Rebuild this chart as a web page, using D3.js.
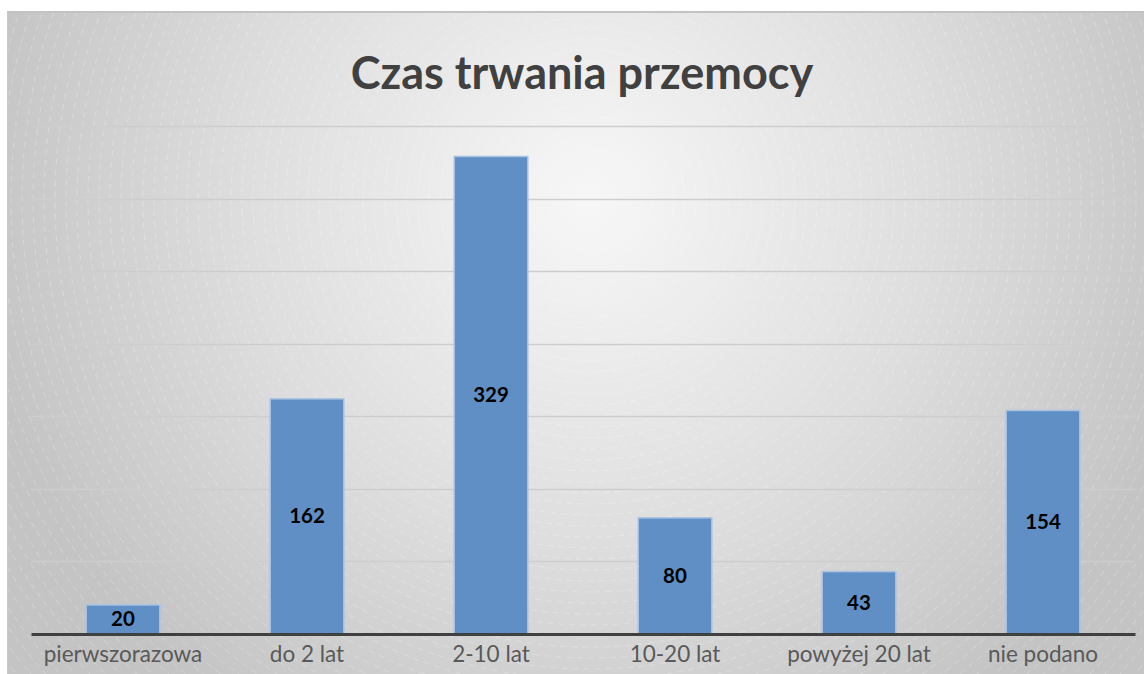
<!DOCTYPE html>
<html>
<head>
<meta charset="utf-8">
<script src="https://cdn.jsdelivr.net/npm/d3@7"></script>
<style>
    body { margin: 0; background: #fff; }
    svg { display: block; font-family: Lato, "Open Sans", sans-serif; }
</style>
</head>
<body>
<svg id="chart" width="1144" height="674"></svg>
<script>
var categories = ['pierwszorazowa', 'do 2 lat', '2-10 lat', '10-20 lat', 'powyżej 20 lat', 'nie podano'];
var values = [20, 162, 329, 80, 43, 154];
var yTicks = [0, 50, 100, 150, 200, 250, 300, 350];

var svg = d3.select('#chart');
var W = 1144, H = 674;
var margin = {left: 31, right: 9, top: 126, bottom: 40};

// background gradient
var defs = svg.append('defs');
var grad = defs.append('radialGradient')
    .attr('id', 'bg')
    .attr('gradientUnits', 'userSpaceOnUse')
    .attr('cx', 590).attr('cy', 200).attr('r', 620);
grad.append('stop').attr('offset', '0%').attr('stop-color', '#f7f7f7');
grad.append('stop').attr('offset', '55%').attr('stop-color', '#dedede');
grad.append('stop').attr('offset', '100%').attr('stop-color', '#c4c4c4');

svg.append('rect')
    .attr('x', 7).attr('y', 11)
    .attr('width', W - 7).attr('height', H - 11)
    .attr('fill', 'url(#bg)');

// faint rings
var rings = svg.append('g').attr('clip-path', 'url(#frame)');
defs.append('clipPath').attr('id', 'frame').append('rect')
    .attr('x', 7).attr('y', 12).attr('width', W - 7).attr('height', H - 12);
d3.range(40, 900, 11).forEach(function(r) {
    rings.append('circle')
        .attr('cx', 590).attr('cy', 200).attr('r', r)
        .attr('fill', 'none')
        .attr('stroke', '#fff')
        .attr('stroke-opacity', 0.25)
        .attr('stroke-dasharray', '6,5');
});

svg.append('line')
    .attr('x1', 7).attr('x2', W).attr('y1', 12).attr('y2', 12)
    .attr('stroke', '#c2c2c2').attr('stroke-width', 2);
svg.append('line')
    .attr('x1', 7.5).attr('x2', 7.5).attr('y1', 11).attr('y2', H)
    .attr('stroke', '#c8c8c8').attr('stroke-width', 1);

var x = d3.scaleBand()
    .domain(categories)
    .range([margin.left, W - margin.right])
    .paddingInner(0.6)
    .paddingOuter(0.3);

var y = d3.scaleLinear()
    .domain([0, 350])
    .range([H - margin.bottom, margin.top]);

// gridlines
svg.append('g')
    .selectAll('line')
    .data(yTicks.slice(1))
    .enter().append('line')
    .attr('x1', margin.left).attr('x2', W - margin.right)
    .attr('y1', function(d) { return Math.round(y(d)) + 0.5; })
    .attr('y2', function(d) { return Math.round(y(d)) + 0.5; })
    .attr('stroke', '#cdcdcd')
    .attr('stroke-width', 1.5);

// title
svg.append('text')
    .attr('x', 582).attr('y', 89)
    .attr('text-anchor', 'middle')
    .attr('font-size', 45)
    .attr('font-weight', 'bold')
    .attr('fill', '#404040')
    .text('Czas trwania przemocy');

// bars
svg.append('g')
    .selectAll('rect')
    .data(values)
    .enter().append('rect')
    .attr('x', function(d, i) { return x(categories[i]); })
    .attr('y', function(d) { return y(d); })
    .attr('width', x.bandwidth())
    .attr('height', function(d) { return y(0) - y(d); })
    .attr('fill', '#5f8fc4')
    .attr('stroke', '#a8c2e2')
    .attr('stroke-width', 1.5);

// value labels
svg.append('g')
    .selectAll('text')
    .data(values)
    .enter().append('text')
    .attr('x', function(d, i) { return x(categories[i]) + x.bandwidth() / 2; })
    .attr('y', function(d) { return (y(d) + y(0)) / 2 + 7; })
    .attr('text-anchor', 'middle')
    .attr('font-size', 20.5)
    .attr('font-weight', 'bold')
    .attr('fill', '#000')
    .text(function(d) { return d; });

// x axis
var xAxis = svg.append('g')
    .attr('transform', 'translate(0,' + y(0) + ')')
    .call(d3.axisBottom(x).tickSize(0).tickPadding(12));
xAxis.select('.domain')
    .attr('stroke', '#404040')
    .attr('stroke-width', 3);
xAxis.selectAll('text')
    .attr('font-family', 'Lato, sans-serif')
    .attr('font-size', 22.5)
    .attr('fill', '#595959');
</script>
</body>
</html>
